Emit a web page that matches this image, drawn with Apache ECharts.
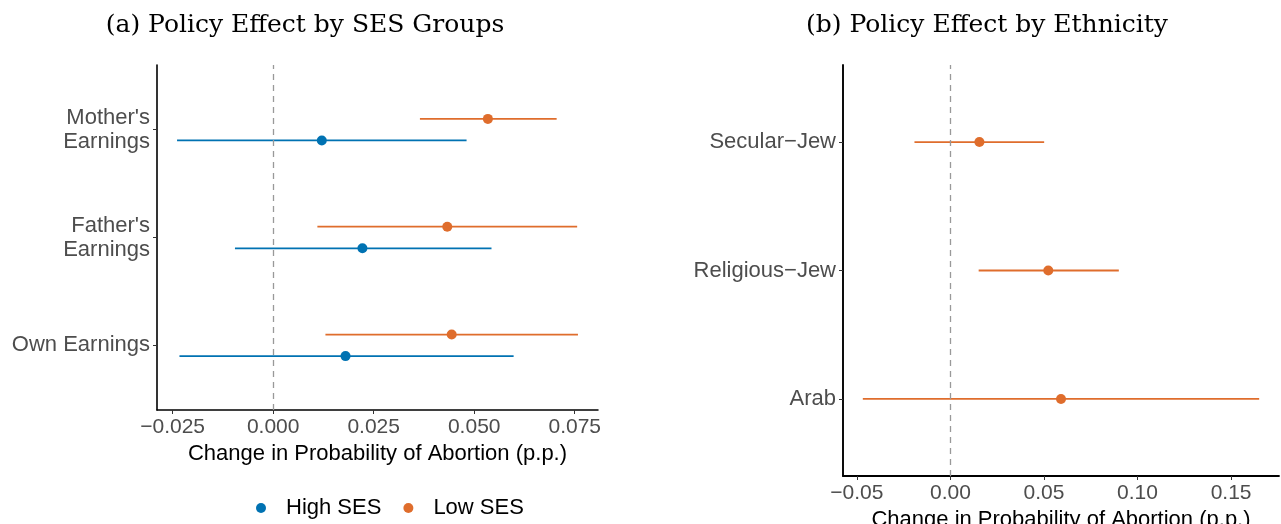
<!DOCTYPE html>
<html>
<head>
<meta charset="utf-8">
<title>Policy Effect</title>
<script src="https://cdn.jsdelivr.net/npm/echarts@6/dist/echarts.min.js"></script>
<style>
  html, body { margin: 0; padding: 0; background: #ffffff; }
  #chart { width: 1281px; height: 524px; }
</style>
</head>
<body>
<div id="chart"></div>
<script>
// Panel (a): effect by SES group, rows listed bottom to top
const sesCategories = ["Own Earnings", "Father's\nEarnings", "Mother's\nEarnings"];
const highSesEst = [0.0180, 0.0222, 0.0121];
const highSesLow = [-0.0233, -0.0095, -0.0239];
const highSesHigh = [0.0598, 0.0543, 0.0481];
const lowSesEst = [0.0444, 0.0433, 0.0534];
const lowSesLow = [0.0130, 0.0110, 0.0365];
const lowSesHigh = [0.0758, 0.0756, 0.0705];

// Panel (b): effect by ethnicity, rows listed bottom to top
const ethCategories = ["Arab", "Religious\u2212Jew", "Secular\u2212Jew"];
const ethEst = [0.0591, 0.0523, 0.0155];
const ethLow = [-0.0468, 0.0151, -0.0192];
const ethHigh = [0.1650, 0.0900, 0.0501];

// Tick labels
const sesTicks = [-0.025, 0, 0.025, 0.05, 0.075];
const ethTicks = [-0.05, 0, 0.05, 0.10, 0.15];

const seriesNames = ["High SES", "Low SES"];
const BLUE = "#0072B2";
const ORANGE = "#DF6D2C";
const SANS = "'Liberation Sans', Arial, sans-serif";
const SERIF = "'DejaVu Serif', serif";
const DODGE = 0.1;

function fmt(v, digits) {
  const s = Math.abs(v).toFixed(digits);
  return (v < 0 ? "\u2212" : "") + s;
}

// 5% padding on both sides of the data range
function paddedRange(lows, highs) {
  const lo = Math.min.apply(null, lows);
  const hi = Math.max.apply(null, highs);
  const pad = (hi - lo) * 0.05;
  return [lo - pad, hi + pad];
}

const sesRange = paddedRange(highSesLow.concat(lowSesLow), highSesHigh.concat(lowSesHigh));
const ethRange = paddedRange(ethLow, ethHigh);

function intervalRows(lows, highs, offset) {
  return lows.map((lo, i) => [lo, highs[i], i + 1 + offset]);
}
function pointRows(est, offset) {
  return est.map((v, i) => [v, i + 1 + offset]);
}

function errorBarRender(color) {
  return function (params, api) {
    const a = api.coord([api.value(0), api.value(2)]);
    const b = api.coord([api.value(1), api.value(2)]);
    return {
      type: 'line',
      shape: { x1: a[0], y1: a[1], x2: b[0], y2: b[1] },
      style: { stroke: color, lineWidth: 1.8 }
    };
  };
}

function xAxisFor(gridIndex, range, ticks, digits, axisWidth) {
  return {
    type: 'value', gridIndex: gridIndex, min: range[0], max: range[1],
    name: 'Change in Probability of Abortion (p.p.)',
    nameLocation: 'middle', nameGap: 33,
    nameTextStyle: { color: '#000000', fontFamily: SANS, fontSize: 22 },
    axisLine: { show: true, onZero: false, lineStyle: { color: '#000000', width: axisWidth } },
    axisTick: { show: true, customValues: ticks, length: 4, lineStyle: { color: '#333333', width: 1 } },
    axisLabel: { customValues: ticks, color: '#4d4d4d', fontFamily: SANS, fontSize: 21, margin: 7,
      formatter: v => fmt(v, digits) },
    splitLine: { show: false }
  };
}

function yAxisFor(gridIndex, cats, axisWidth) {
  return {
    type: 'value', gridIndex: gridIndex, min: 0.4, max: 3.6,
    axisLine: { show: true, onZero: false, lineStyle: { color: '#000000', width: axisWidth } },
    axisTick: { show: true, customValues: [1, 2, 3], length: 4, lineStyle: { color: '#333333', width: 1 } },
    axisLabel: { customValues: [1, 2, 3], color: '#4d4d4d', fontFamily: SANS, fontSize: 22,
      lineHeight: 24, margin: 7, align: 'right',
      formatter: v => cats[Math.round(v) - 1] },
    splitLine: { show: false }
  };
}

const zeroLine = {
  silent: true, symbol: 'none', label: { show: false },
  lineStyle: { color: '#999999', type: [6, 5], width: 1.3 },
  data: [{ xAxis: 0 }]
};

const chart = echarts.init(document.getElementById('chart'), null, { renderer: 'canvas' });
chart.setOption({
  animation: false,
  backgroundColor: '#ffffff',
  graphic: [
    { type: 'text', x: 305, y: 25,
      style: { text: '(a) Policy Effect by SES Groups', fill: '#000000',
        font: '25px ' + SERIF, textAlign: 'center', textVerticalAlign: 'middle' } },
    { type: 'text', x: 987, y: 25,
      style: { text: '(b) Policy Effect by Ethnicity', fill: '#000000',
        font: '25px ' + SERIF, textAlign: 'center', textVerticalAlign: 'middle' } }
  ],
  legend: {
    data: seriesNames,
    left: 251, top: 492,
    icon: 'circle', itemWidth: 40, itemHeight: 10, itemGap: 22,
    textStyle: { color: '#000000', fontFamily: SANS, fontSize: 22 },
    selectedMode: false
  },
  grid: [
    { left: 157, right: 683, top: 65, bottom: 114, outerBoundsMode: 'none', containLabel: false },
    { left: 843, right: 2, top: 65, bottom: 48, outerBoundsMode: 'none', containLabel: false }
  ],
  xAxis: [
    xAxisFor(0, sesRange, sesTicks, 3, 1.5),
    xAxisFor(1, ethRange, ethTicks, 2, 1.8)
  ],
  yAxis: [
    yAxisFor(0, sesCategories, 1.6),
    yAxisFor(1, ethCategories, 1.9)
  ],
  series: [
    { name: 'High SES', type: 'custom', xAxisIndex: 0, yAxisIndex: 0, z: 2,
      color: BLUE, renderItem: errorBarRender(BLUE),
      encode: { x: [0, 1], y: 2 },
      data: intervalRows(highSesLow, highSesHigh, -DODGE),
      markLine: zeroLine },
    { name: 'Low SES', type: 'custom', xAxisIndex: 0, yAxisIndex: 0, z: 2,
      color: ORANGE, renderItem: errorBarRender(ORANGE),
      encode: { x: [0, 1], y: 2 },
      data: intervalRows(lowSesLow, lowSesHigh, DODGE) },
    { name: 'High SES', type: 'scatter', xAxisIndex: 0, yAxisIndex: 0, z: 3,
      symbolSize: 10, itemStyle: { color: BLUE, opacity: 1 },
      data: pointRows(highSesEst, -DODGE) },
    { name: 'Low SES', type: 'scatter', xAxisIndex: 0, yAxisIndex: 0, z: 3,
      symbolSize: 10, itemStyle: { color: ORANGE, opacity: 1 },
      data: pointRows(lowSesEst, DODGE) },
    { name: 'Ethnicity interval', type: 'custom', xAxisIndex: 1, yAxisIndex: 1, z: 2,
      color: ORANGE, renderItem: errorBarRender(ORANGE),
      encode: { x: [0, 1], y: 2 },
      data: intervalRows(ethLow, ethHigh, 0),
      markLine: zeroLine },
    { name: 'Ethnicity estimate', type: 'scatter', xAxisIndex: 1, yAxisIndex: 1, z: 3,
      symbolSize: 10, itemStyle: { color: ORANGE, opacity: 1 },
      data: pointRows(ethEst, 0) }
  ]
});
</script>
</body>
</html>
